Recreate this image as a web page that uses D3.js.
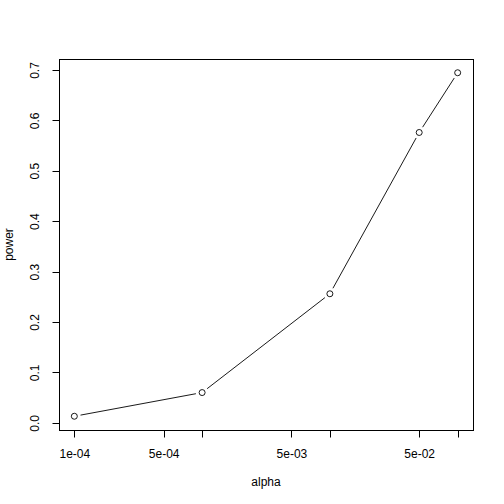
<!DOCTYPE html>
<html>
<head>
<meta charset="utf-8">
<script src="https://cdn.jsdelivr.net/npm/d3@7"></script>
<style>
    body { margin: 0; background: #fff; }
    text { font-family: "Liberation Sans", Arial, sans-serif; font-size: 12px; fill: #000; }
</style>
</head>
<body>
<div id="vis"></div>
<script>
'use strict';

//data
var alpha = [1e-4, 1e-3, 1e-2, 5e-2, 1e-1];
var power = [0.013, 0.060, 0.256, 0.576, 0.6945];

//tick labels (R drops the ones that would overlap)
var xTicks = [1e-4, 5e-4, 1e-3, 5e-3, 1e-2, 5e-2, 1e-1];
var xTickLabels = ['1e-04', '5e-04', '', '5e-03', '', '5e-02', ''];
var yTicks = [0, 0.1, 0.2, 0.3, 0.4, 0.5, 0.6, 0.7];
var yTickLabels = ['0.0', '0.1', '0.2', '0.3', '0.4', '0.5', '0.6', '0.7'];

//layout
var W = 504, H = 504;
var box = { left: 59, right: 473, top: 59, bottom: 430 };
var tick = 7;
var gap = 6.3;

//R style 4% range extension
function extend(lo, hi) {
    var d = (hi - lo) * 0.04;
    return [lo - d, hi + d];
}

var lx = extend(Math.log10(d3.min(alpha)), Math.log10(d3.max(alpha)));
var x = d3.scaleLog()
    .domain([Math.pow(10, lx[0]), Math.pow(10, lx[1])])
    .range([box.left, box.right]);
var y = d3.scaleLinear()
    .domain(extend(d3.min(power), d3.max(power)))
    .range([box.bottom, box.top]);

var svg = d3.select('#vis')
    .append('svg')
    .attr('width', W)
    .attr('height', H);

//box
svg.append('rect')
    .attr('x', box.left + 0.5)
    .attr('y', box.top + 0.5)
    .attr('width', box.right - box.left)
    .attr('height', box.bottom - box.top)
    .style('fill', 'none')
    .style('stroke', '#000');

//x axis
var xAxis = svg.append('g')
    .attr('transform', 'translate(0.5,' + (box.bottom + 0.5) + ')');
xAxis.append('line')
    .attr('x1', x(xTicks[0]))
    .attr('x2', x(xTicks[xTicks.length - 1]))
    .style('stroke', '#000');
xTicks.forEach(function (t, i) {
    xAxis.append('line')
        .attr('x1', Math.round(x(t)))
        .attr('x2', Math.round(x(t)))
        .attr('y2', tick)
        .style('stroke', '#000');
    xAxis.append('text')
        .attr('x', x(t))
        .attr('y', 27)
        .attr('text-anchor', 'middle')
        .text(xTickLabels[i]);
});

//y axis
var yAxis = svg.append('g')
    .attr('transform', 'translate(' + (box.left + 0.5) + ',0.5)');
yAxis.append('line')
    .attr('y1', y(yTicks[0]))
    .attr('y2', y(yTicks[yTicks.length - 1]))
    .style('stroke', '#000');
yTicks.forEach(function (t, i) {
    var yy = Math.round(y(t));
    yAxis.append('line')
        .attr('y1', yy)
        .attr('y2', yy)
        .attr('x2', -tick)
        .style('stroke', '#000');
    yAxis.append('text')
        .attr('transform', 'translate(-20.5,' + y(t) + ') rotate(-90)')
        .attr('text-anchor', 'middle')
        .text(yTickLabels[i]);
});

//axis titles
svg.append('text')
    .attr('x', (box.left + box.right) / 2)
    .attr('y', 485.5)
    .attr('text-anchor', 'middle')
    .text('alpha');
svg.append('text')
    .attr('transform', 'translate(12.5,' + (box.top + box.bottom) / 2 + ') rotate(-90)')
    .attr('text-anchor', 'middle')
    .text('power');

//type = "b": segments with gaps round the points
var pts = alpha.map(function (a, i) {
    return [x(a), y(power[i])];
});
for (var i = 0; i < pts.length - 1; i++) {
    var p0 = pts[i], p1 = pts[i + 1];
    var dx = p1[0] - p0[0], dy = p1[1] - p0[1];
    var len = Math.sqrt(dx * dx + dy * dy);
    if (len <= 2 * gap) continue;
    var ux = dx / len, uy = dy / len;
    svg.append('line')
        .attr('x1', p0[0] + ux * gap)
        .attr('y1', p0[1] + uy * gap)
        .attr('x2', p1[0] - ux * gap)
        .attr('y2', p1[1] - uy * gap)
        .style('stroke', '#000')
        .style('stroke-width', 0.9);
}

svg.selectAll('.pt')
    .data(pts)
    .enter()
    .append('circle')
    .attr('class', 'pt')
    .attr('cx', function (d) { return d[0]; })
    .attr('cy', function (d) { return d[1]; })
    .attr('r', 3)
    .style('fill', 'none')
    .style('stroke', '#000')
    .style('stroke-width', 0.9);
</script>
</body>
</html>
